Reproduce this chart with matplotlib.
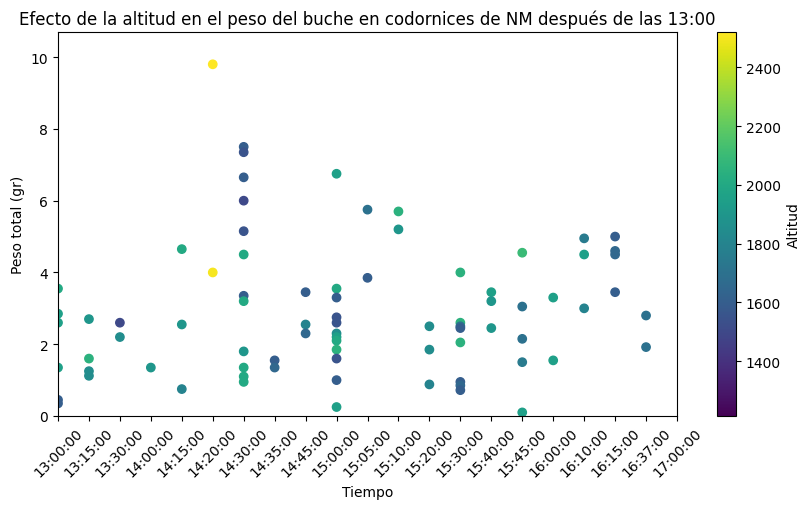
import numpy as np
import matplotlib.pyplot as plt

tiempos = ['13:00:00', '13:15:00', '13:30:00', '14:00:00', '14:15:00', '14:20:00', '14:30:00',
           '14:35:00', '14:45:00', '15:00:00', '15:05:00', '15:10:00', '15:20:00', '15:30:00',
           '15:40:00', '15:45:00', '16:00:00', '16:10:00', '16:15:00', '16:37:00', '17:00:00']

# (indice de tiempo, peso, altitud)
idx = [0, 0, 0, 0, 0, 0,
       1, 1, 1, 1,
       2, 2,
       3,
       4, 4, 4,
       5, 5,
       6, 6, 6, 6, 6, 6, 6, 6, 6, 6, 6, 6,
       7, 7,
       8, 8, 8,
       9, 9, 9, 9, 9, 9, 9, 9, 9, 9, 9, 9,
       10, 10,
       11, 11,
       12, 12, 12,
       13, 13, 13, 13, 13, 13, 13, 13,
       14, 14, 14,
       15, 15, 15, 15, 15,
       16, 16,
       17, 17, 17,
       18, 18, 18, 18,
       19, 19]
peso = [3.55, 2.85, 2.6, 1.35, 0.45, 0.35,
        2.7, 1.6, 1.25, 1.12,
        2.6, 2.2,
        1.35,
        4.65, 2.55, 0.75,
        9.8, 4.0,
        7.5, 7.35, 6.65, 6.0, 5.15, 4.5, 3.35, 3.2, 1.8, 1.35, 1.1, 0.95,
        1.55, 1.35,
        3.45, 2.55, 2.3,
        6.75, 3.55, 3.3, 2.75, 2.6, 2.3, 2.2, 2.1, 1.85, 1.6, 1.0, 0.25,
        5.75, 3.85,
        5.7, 5.2,
        2.5, 1.85, 0.88,
        4.0, 2.6, 2.5, 2.45, 2.05, 0.95, 0.85, 0.72,
        3.45, 3.2, 2.45,
        4.55, 3.05, 2.15, 1.5, 0.1,
        3.3, 1.55,
        4.95, 4.5, 3.0,
        5.0, 4.6, 4.5, 3.45,
        2.8, 1.92]
altitud = [2000, 1950, 1950, 1950, 1600, 1600,
           1900, 2050, 1850, 1850,
           1500, 1850,
           1900,
           2000, 1900, 1800,
           2520, 2500,
           1600, 1550, 1600, 1500, 1550, 2000, 1600, 2000, 1900, 2000, 2000, 2000,
           1600, 1650,
           1600, 1800, 1650,
           1950, 2000, 1600, 1550, 1550, 1850, 1950, 2000, 2050, 1550, 1600, 1950,
           1700, 1600,
           2050, 1900,
           1850, 1850, 1800,
           2050, 2050, 1700, 1600, 2050, 1600, 1650, 1600,
           1950, 1900, 1900,
           2100, 1700, 1700, 1750, 1950,
           1950, 1950,
           1750, 1950, 1800,
           1600, 1650, 1650, 1600,
           1700, 1700]

fig = plt.figure(figsize=(8.09, 5.1), dpi=100)
ax = fig.add_axes([58/809, 93/510, 619/809, 384/510])
sc = ax.scatter(idx, peso, c=altitud, cmap='viridis', vmin=1213, vmax=2520)
ax.set_xticks(range(len(tiempos)))
ax.set_xticklabels(tiempos, rotation=45)
ax.set_xlim(0, len(tiempos) - 1)
ax.set_ylim(0, 10.7)
ax.set_xlabel('Tiempo')
ax.set_ylabel('Peso total (gr)')
ax.set_title('Efecto de la altitud en el peso del buche en codornices de NM después de las 13:00')
cax = fig.add_axes([717/809, 93/510, 19/809, 384/510])
cb = fig.colorbar(sc, cax=cax)
cb.set_label('Altitud')
fig.savefig('out.png')
